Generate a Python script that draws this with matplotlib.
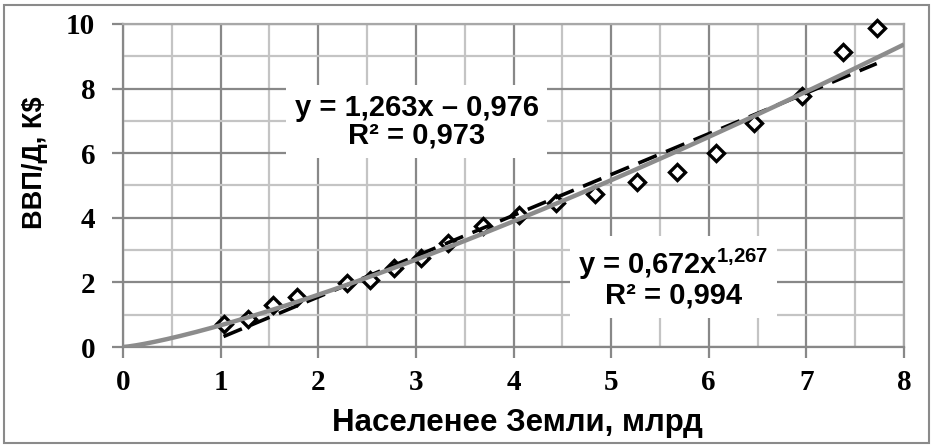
import numpy as np
import matplotlib
matplotlib.use("Agg")
import matplotlib.pyplot as plt
from matplotlib.patches import Rectangle
from matplotlib.ticker import MultipleLocator

plt.rcParams['mathtext.fontset'] = 'custom'
plt.rcParams['mathtext.rm'] = 'Liberation Sans:bold'
plt.rcParams['mathtext.bf'] = 'Liberation Sans:bold'
plt.rcParams['mathtext.it'] = 'Liberation Sans:bold'

# ---- data ----
population = [1.03, 1.28, 1.54, 1.78, 2.29, 2.53, 2.78, 3.05, 3.33, 3.69,
              4.06, 4.44, 4.83, 5.26, 5.67, 6.07, 6.46, 6.96, 7.38, 7.72]
gdp_per_capita = [0.71, 0.87, 1.30, 1.56, 1.97, 2.07, 2.44, 2.75, 3.21, 3.76,
                  4.09, 4.47, 4.74, 5.12, 5.41, 6.02, 6.93, 7.77, 9.12, 9.87]
linear_coef = [1.263, -0.976]     # slope, intercept
power_coef = [0.672, 1.267]       # a, b  (y = a*x^b)
linear_label = "y = 1,263x – 0,976\nR² = 0,973"
power_label = "y = 0,672x$^{1{,}267}$\nR² = 0,994"
x_ticks = [0, 1, 2, 3, 4, 5, 6, 7, 8]
y_ticks = [0, 2, 4, 6, 8, 10]
x_title = "Населенее Земли, млрд"
y_title = "ВВП/Д, К$"

W, H = 933, 445
fig = plt.figure(figsize=(W / 100, H / 100), dpi=100)
ax = fig.add_axes([123 / W, 1 - 347 / H, 781 / W, 323 / H])

major_c = '#888888'
minor_c = '#c4c4c4'

ax.set_xlim(0, 8)
ax.set_ylim(0, 10)
ax.xaxis.set_major_locator(MultipleLocator(1))
ax.xaxis.set_minor_locator(MultipleLocator(0.5))
ax.yaxis.set_major_locator(MultipleLocator(2))
ax.yaxis.set_minor_locator(MultipleLocator(1))
ax.grid(which='minor', color=minor_c, lw=1.6, zorder=0)
ax.grid(which='major', color=major_c, lw=1.6, zorder=0)
ax.set_axisbelow(True)
for s in ax.spines.values():
    s.set_color(major_c)
    s.set_linewidth(1.6)
ax.spines['top'].set_color('#a8a8a8')
ax.spines['right'].set_color('#a8a8a8')

ax.tick_params(which='major', direction='out', length=8, width=1.6, color=major_c)
ax.tick_params(which='minor', length=0)
ax.set_xticks(x_ticks)
ax.set_yticks(y_ticks)
ax.set_xticklabels([str(v) for v in x_ticks], fontfamily='Liberation Serif',
                   fontweight='bold', fontsize=21)
ax.set_yticklabels([str(v) for v in y_ticks], fontfamily='Liberation Serif',
                   fontweight='bold', fontsize=21)
ax.tick_params(axis='y', pad=12)
ax.tick_params(axis='x', pad=8)

# scatter
ax.plot(population, gdp_per_capita, linestyle='none', marker='D', markersize=8.5,
        markerfacecolor='white', markeredgecolor='black', markeredgewidth=2.4,
        zorder=3, clip_on=False)

# linear trend (dashed)
xl = np.linspace(min(population), max(population), 50)
ax.plot(xl, linear_coef[0] * xl + linear_coef[1], color='black', lw=2.6,
        linestyle=(0, (5.5, 2.8)), zorder=4)

# power trend (gray)
xp = np.linspace(0, 8, 300)
ax.plot(xp, power_coef[0] * xp ** power_coef[1], color='#8c8c8c', lw=3.2,
        zorder=5, solid_capstyle='butt')

bbox = dict(facecolor='white', edgecolor='none', pad=6)
ax.text(3.01, 6.98, linear_label, ha='center', va='center', multialignment='center',
        fontfamily='Liberation Sans', fontweight='bold', fontsize=21,
        linespacing=0.98, bbox=bbox, zorder=6)
ax.text(5.64, 2.14, power_label, ha='center', va='center', multialignment='center',
        fontfamily='Liberation Sans', fontweight='bold', fontsize=21,
        linespacing=0.98, bbox=bbox, zorder=6)

fig.text(517 / W, 1 - 423 / H, x_title, ha='center', va='center',
         fontfamily='Liberation Sans', fontweight='bold', fontsize=22.5)
fig.text(35 / W, 1 - 163 / H, y_title, ha='center', va='center', rotation=90,
         fontfamily='Liberation Sans', fontweight='bold', fontsize=19.5)

fig.patches.append(Rectangle((4 / W, 2 / H), 925 / W, 438 / H, transform=fig.transFigure,
                             fill=False, edgecolor='#8a8a8a', lw=1.5))

fig.savefig('out.png', dpi=100, facecolor='white')
